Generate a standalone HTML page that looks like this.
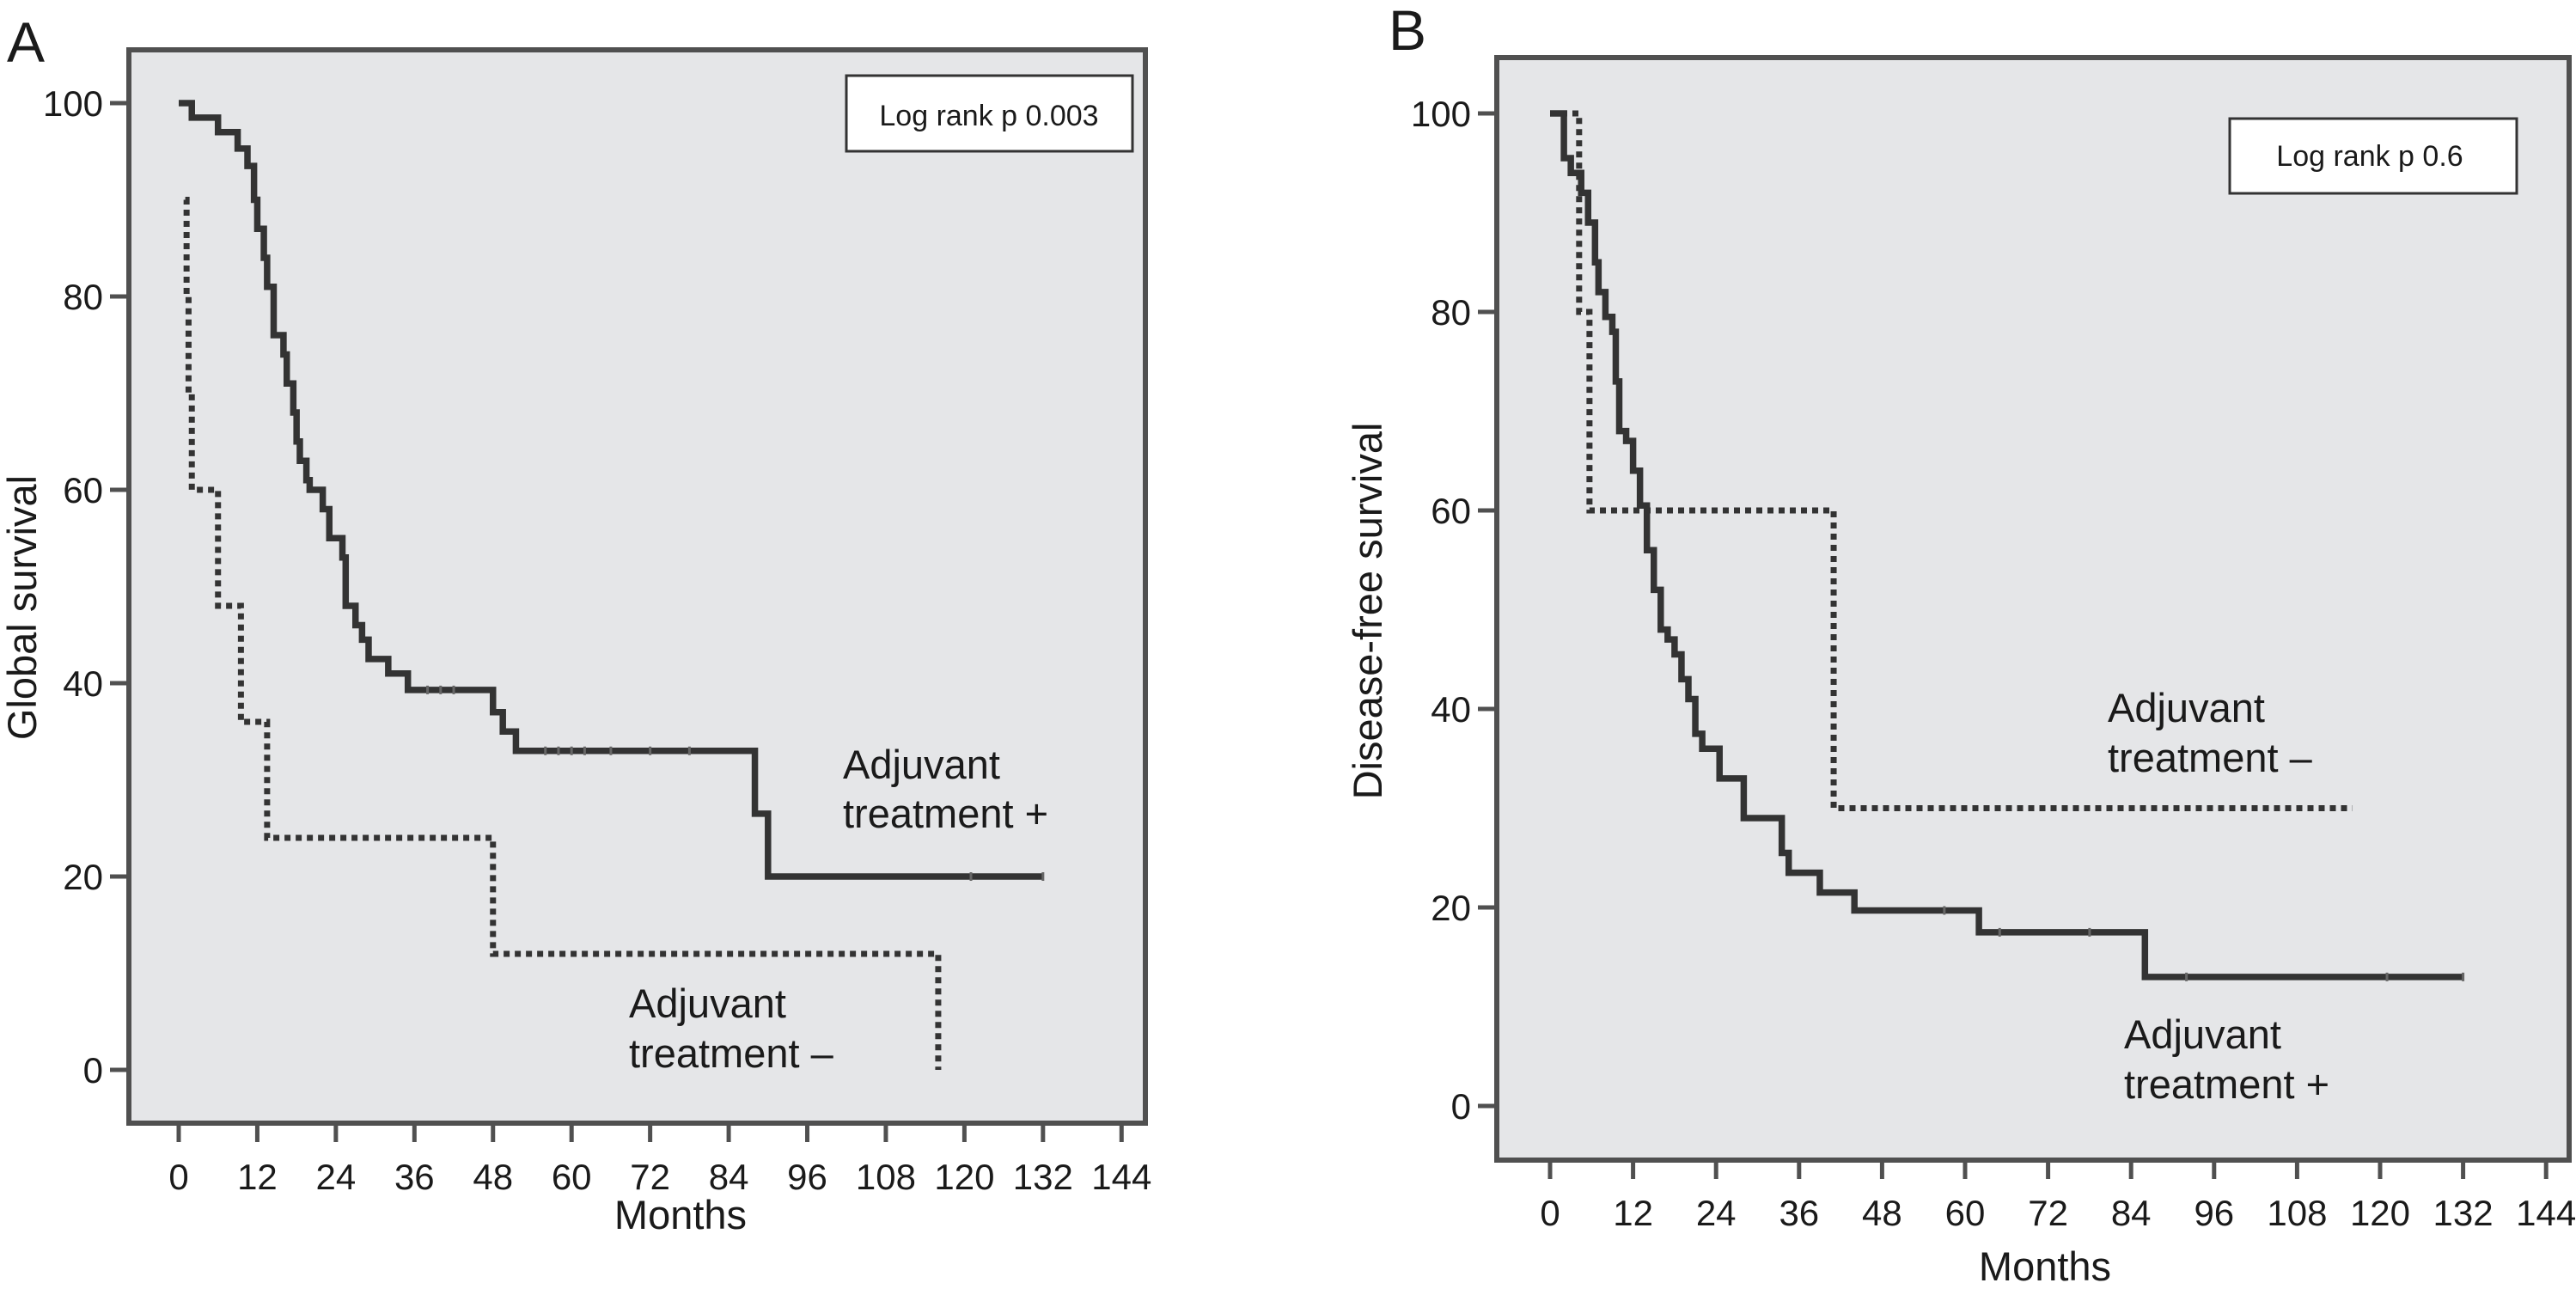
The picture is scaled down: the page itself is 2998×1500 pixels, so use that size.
<!DOCTYPE html>
<html><head><meta charset="utf-8"><style>
html,body{margin:0;padding:0;background:#fff;}
svg{display:block;}
text{font-family:"Liberation Sans",Arial,sans-serif;fill:#1a1a1a;}
</style></head><body>
<svg id="chart" width="2998" height="1500" viewBox="0 0 2998 1500" xmlns="http://www.w3.org/2000/svg">
<g id="panelA"></g>
<g id="panelB"></g>
</svg>
<script>
// ---- data ----
const xTicks = [0,12,24,36,48,60,72,84,96,108,120,132,144];
const yTicks = [0,20,40,60,80,100];
// Panel A – global survival
const aPlusTimes  = [0,2,6,9,10.5,11.5,12,13,13.5,14.5,16,16.5,17.5,18,18.5,19.5,20,22,23,25,25.5,27,28,29,32,35,48,49.5,51.5,88,90,132];
const aPlusValues = [100,98.5,97,95.3,93.5,90,87,84,81,76,74,71,68,65,63,61,60,58,55,53,48,46,44.5,42.5,41,39.3,37,35,33,26.5,20,20];
const aMinusTimes  = [1,1.2,1.5,2,6,9.5,13.5,48,116];
const aMinusValues = [90,80,70,60,48,36,24,12,0];
const aPlusCensor = [38,40,42,56,58,60,62,66,72,78,121,132];
// Panel B – disease-free survival
const bPlusTimes  = [0,2,3,4.5,5.5,6.5,7,8,9,9.5,10,11,12,13,14,15,16,17,18,19,20,21,22,24.5,28,33.5,34.5,39,44,62,86,132];
const bPlusValues = [100,95.5,94,92,89,85,82,79.5,78,73,68,67,64,60.5,56,52,48,47,45.5,43,41,37.5,36,33,29,25.5,23.5,21.5,19.7,17.5,13,13];
const bMinusTimes  = [0,4.2,5.7,41,116];
const bMinusValues = [100,80,60,30,30];
const bPlusCensor = [57,65,78,92,121,132];

const NS='http://www.w3.org/2000/svg';
function mk(parent,tag,attrs,txt){const e=document.createElementNS(NS,tag);for(const k in attrs)e.setAttribute(k,attrs[k]);if(txt!==undefined)e.textContent=txt;parent.appendChild(e);return e;}

function panel(g,cfg){
  const X=m=>cfg.x0+m*cfg.px;
  const Y=v=>cfg.y0-v*cfg.py;
  const bg=mk(g,'rect',{x:cfg.L,y:cfg.T,width:cfg.R-cfg.L,height:cfg.B-cfg.T,fill:'#e5e6e8',stroke:'#505050','stroke-width':6});
  
  
  xTicks.forEach(t=>{
    const l=mk(g,'line',{x1:X(t),x2:X(t),y1:cfg.B,y2:cfg.B+22,stroke:'#505050','stroke-width':5});
    
    
    const tx=mk(g,'text',{x:X(t),y:cfg.xlabY,'font-size':42,'text-anchor':'middle'},String(t));
    
    
  });
  yTicks.forEach(t=>{
    const l=mk(g,'line',{x1:cfg.L-22,x2:cfg.L,y1:Y(t),y2:Y(t),stroke:'#505050','stroke-width':5});
    
    
    const tx=mk(g,'text',{x:cfg.L-30,y:Y(t)+15,'font-size':42,'text-anchor':'end'},String(t));
    
    
  });
  function step(times,vals,dashed,name){
    let d='M'+X(times[0])+' '+Y(vals[0]);
    for(let i=1;i<times.length;i++){d+=' H'+X(times[i])+' V'+Y(vals[i]);}
    const p=mk(g,'path',{d:d,fill:'none',stroke:'#333','stroke-width':dashed?7:7.5,'stroke-dasharray':dashed?'7 6':'none'});
    
    
  }
  step(cfg.plusT,cfg.plusV,false,'curve-treatment-plus');
  step(cfg.minusT,cfg.minusV,true,'curve-treatment-minus');
  cfg.censor.forEach(c=>{
    let v=cfg.plusV[0];for(let i=0;i<cfg.plusT.length;i++){if(cfg.plusT[i]<=c)v=cfg.plusV[i];}
    const l=mk(g,'line',{x1:X(c),x2:X(c),y1:Y(v)-5,y2:Y(v)+5,stroke:'#666','stroke-width':3});
    
    
  });
}

const A=document.getElementById('panelA');
panel(A,{L:150,R:1333,T:58,B:1307,x0:208,px:7.62,y0:1245,py:11.25,xlabY:1384,
  plusT:aPlusTimes,plusV:aPlusValues,minusT:aMinusTimes,minusV:aMinusValues,censor:aPlusCensor});
const B=document.getElementById('panelB');
panel(B,{L:1742,R:2990,T:67,B:1350,x0:1804,px:8.05,y0:1287,py:11.55,xlabY:1426,
  plusT:bPlusTimes,plusV:bPlusValues,minusT:bMinusTimes,minusV:bMinusValues,censor:bPlusCensor});
</script>
<svg style="position:absolute;left:0;top:0" width="2998" height="1500" xmlns="http://www.w3.org/2000/svg">
<text x="8" y="72" font-size="66">A</text>
<text x="1616" y="58" font-size="66">B</text>
<rect x="985" y="88" width="333" height="88" fill="#fff" stroke="#333" stroke-width="3"/>
<text x="1151" y="146" font-size="34" text-anchor="middle">Log rank p 0.003</text>
<rect x="2595" y="138" width="334" height="87" fill="#fff" stroke="#333" stroke-width="3"/>
<text x="2758" y="193" font-size="34" text-anchor="middle">Log rank p 0.6</text>
<text x="792" y="1430" font-size="47" text-anchor="middle">Months</text>
<text x="2380" y="1490" font-size="47" text-anchor="middle">Months</text>
<text transform="translate(42,707) rotate(-90)" font-size="47" text-anchor="middle">Global survival</text>
<text transform="translate(1608,711) rotate(-90)" font-size="47" text-anchor="middle">Disease-free survival</text>
<text x="981" y="906" font-size="47">Adjuvant</text>
<text x="981" y="963" font-size="47">treatment +</text>
<text x="732" y="1184" font-size="47">Adjuvant</text>
<text x="732" y="1242" font-size="47">treatment –</text>
<text x="2453" y="840" font-size="47">Adjuvant</text>
<text x="2453" y="898" font-size="47">treatment –</text>
<text x="2472" y="1220" font-size="47">Adjuvant</text>
<text x="2472" y="1278" font-size="47">treatment +</text>
</svg>
</body></html>
